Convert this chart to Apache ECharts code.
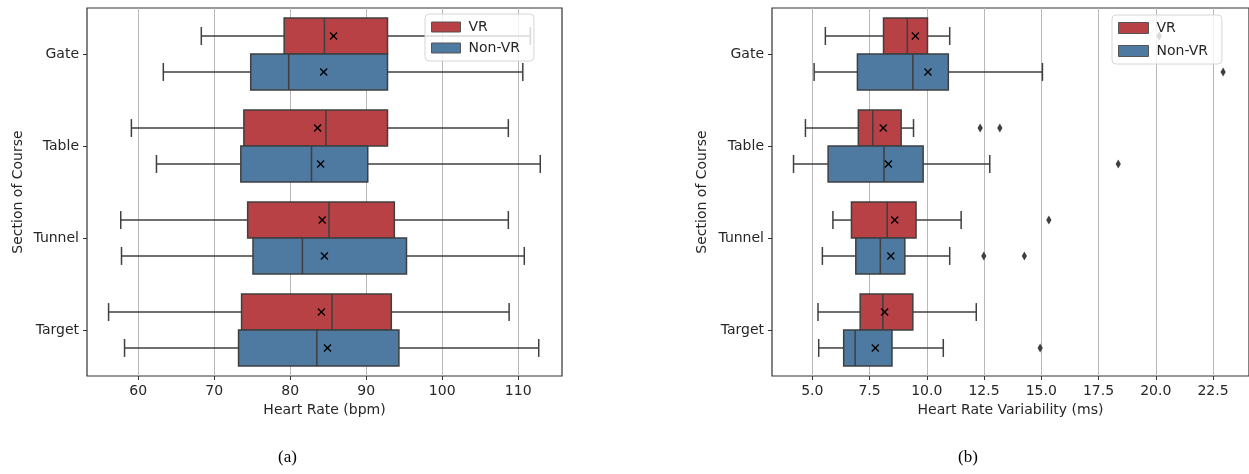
<!DOCTYPE html>
<html>
<head>
<meta charset="utf-8">
<script src="https://cdn.jsdelivr.net/npm/echarts@6/dist/echarts.min.js"></script>
<style>
  html, body { margin: 0; background: #fff; }
  #chart { width: 1249px; height: 474px; }
</style>
</head>
<body>
<div id="chart"></div>
<script>
const categories = ['Gate', 'Table', 'Tunnel', 'Target']
const hues = ['VR', 'Non-VR']

// each row: [lower whisker, Q1, median, Q3, upper whisker, mean]
const hrVR = [
  [68.3, 79.2, 84.5, 92.8, 111.6, 85.7],
  [59.1, 73.9, 84.7, 92.8, 108.7, 83.6],
  [57.7, 74.4, 85.1, 93.7, 108.7, 84.2],
  [56.1, 73.6, 85.5, 93.3, 108.8, 84.1]
]
const hrNonVR = [
  [63.3, 74.8, 79.8, 92.8, 110.6, 84.4],
  [62.4, 73.5, 82.8, 90.2, 112.9, 84.0],
  [57.8, 75.1, 81.6, 95.3, 110.8, 84.5],
  [58.2, 73.2, 83.5, 94.3, 112.7, 84.9]
]
const hrvVR = [
  [5.57, 8.11, 9.15, 10.03, 11.0, 9.5],
  [4.70, 7.01, 7.64, 8.88, 9.42, 8.1],
  [5.90, 6.71, 8.27, 9.53, 11.5, 8.6],
  [5.25, 7.09, 8.08, 9.39, 12.16, 8.16]
]
const hrvNonVR = [
  [5.08, 6.97, 9.39, 10.94, 15.05, 10.05],
  [4.18, 5.69, 8.13, 9.84, 12.75, 8.32],
  [5.44, 6.90, 7.97, 9.04, 11.0, 8.43],
  [5.28, 6.37, 6.87, 8.48, 10.72, 7.75]
]
// outliers: [category index, value]
const hrvOutVR = [[0, 20.15], [1, 12.33], [1, 13.19], [2, 15.33]]
const hrvOutNonVR = [[0, 22.94], [1, 18.36], [2, 12.49], [2, 14.26], [3, 14.95]]

const hrTicks = [60, 70, 80, 90, 100, 110]
const hrvTicks = [5, 7.5, 10, 12.5, 15, 17.5, 20, 22.5]

const hueColors = ['#b84146', '#4e79a0']
const edge = '#3f3f3f'
const textColor = '#262626'
const font = 'DejaVu Sans'

function offsetOf (hue, h) {
  return hue === 0 ? -h / 2 : h / 2
}

function boxItem (hue) {
  return function (params, api) {
    const cat = api.value(0)
    const band = api.size([0, 1])[1]
    const h = band * 0.39
    const yc = api.coord([0, cat])[1] + offsetOf(hue, h)
    const px = i => api.coord([api.value(i), cat])[0]
    const [lo, q1, med, q3, hi, mean] = [1, 2, 3, 4, 5, 6].map(px)
    const line = (x1, y1, x2, y2, color, w) => ({
      type: 'line', shape: { x1, y1, x2, y2 }, style: { stroke: color, lineWidth: w }
    })
    const m = 3.5
    return {
      type: 'group',
      children: [
        line(lo, yc, q1, yc, edge, 1.5),
        line(q3, yc, hi, yc, edge, 1.5),
        line(lo, yc - h / 4, lo, yc + h / 4, edge, 1.5),
        line(hi, yc - h / 4, hi, yc + h / 4, edge, 1.5),
        { type: 'rect', shape: { x: q1, y: yc - h / 2, width: q3 - q1, height: h },
          style: { fill: hueColors[hue], stroke: edge, lineWidth: 1.5 } },
        line(med, yc - h / 2, med, yc + h / 2, edge, 1.5),
        line(mean - m, yc - m, mean + m, yc + m, '#000', 1.3),
        line(mean - m, yc + m, mean + m, yc - m, '#000', 1.3)
      ]
    }
  }
}

function outlierItem (hue) {
  return function (params, api) {
    const cat = api.value(0)
    const band = api.size([0, 1])[1]
    const h = band * 0.39
    const p = api.coord([api.value(1), cat])
    const y = p[1] + offsetOf(hue, h)
    return {
      type: 'polygon',
      shape: { points: [[p[0], y - 4.5], [p[0] + 2.6, y], [p[0], y + 4.5], [p[0] - 2.6, y]] },
      style: { fill: edge }
    }
  }
}

function boxSeries (name, hue, rows, gi) {
  return {
    name: name,
    type: 'custom',
    xAxisIndex: gi,
    yAxisIndex: gi,
    renderItem: boxItem(hue),
    itemStyle: { color: hueColors[hue] },
    encode: { x: [1, 2, 3, 4, 5], y: 0 },
    data: rows.map((r, i) => [i].concat(r)),
    z: 3
  }
}

function outlierSeries (hue, pts, gi) {
  return {
    name: 'outliers ' + hues[hue],
    type: 'custom',
    xAxisIndex: gi,
    yAxisIndex: gi,
    renderItem: outlierItem(hue),
    encode: { x: 1, y: 0 },
    data: pts,
    z: 3
  }
}

function xAxisOf (gi, min, max, ticks, name, fmt) {
  return {
    type: 'value',
    gridIndex: gi,
    min: min,
    max: max,
    name: name,
    nameLocation: 'middle',
    nameGap: 27,
    nameTextStyle: { fontFamily: font, fontSize: 14, color: textColor },
    axisLine: { show: false },
    axisTick: { show: true, length: 4, customValues: ticks, lineStyle: { color: '#333' } },
    axisLabel: { customValues: ticks, formatter: fmt, fontFamily: font, fontSize: 14, color: textColor, margin: 8 },
    splitLine: { show: true, lineStyle: { color: '#b8b8b8', width: 1 } }
  }
}

function yAxisOf (gi, gap) {
  return {
    type: 'category',
    gridIndex: gi,
    data: categories,
    inverse: true,
    name: 'Section of Course',
    nameLocation: 'middle',
    nameGap: gap,
    nameTextStyle: { fontFamily: font, fontSize: 14, color: textColor },
    axisLine: { show: false },
    axisTick: { show: true, alignWithLabel: true, length: 4, lineStyle: { color: '#333' } },
    axisLabel: { fontFamily: font, fontSize: 14, color: textColor, margin: 8 },
    splitLine: { show: false }
  }
}

function legendOf (left, top, w, h, gap) {
  return {
    data: hues,
    left: left,
    top: top,
    orient: 'vertical',
    selectedMode: false,
    icon: 'rect',
    itemWidth: w,
    itemHeight: h,
    itemGap: gap,
    padding: [6, 14, 6, 6],
    backgroundColor: 'rgba(255,255,255,0.8)',
    borderColor: '#d6d6d6',
    borderWidth: 1,
    borderRadius: 4,
    itemStyle: { borderColor: '#555', borderWidth: 1 },
    textStyle: { fontFamily: font, fontSize: 14, color: textColor, padding: [0, 0, 0, 3] },
    z: 10
  }
}

const chart = echarts.init(document.getElementById('chart'))
chart.setOption({
  animation: false,
  grid: [
    { left: 87, right: 687, top: 8, bottom: 98, show: true, borderColor: '#333', borderWidth: 1.2 },
    { left: 772, right: -4, top: 8, bottom: 98, show: true, borderColor: '#333', borderWidth: 1.2 }
  ],
  xAxis: [
    xAxisOf(0, 53.26, 115.76, hrTicks, 'Heart Rate (bpm)', v => String(v)),
    xAxisOf(1, 3.24, 24.07, hrvTicks, 'Heart Rate Variability (ms)', v => v.toFixed(1))
  ],
  yAxis: [yAxisOf(0, 62), yAxisOf(1, 63)],
  legend: [
    legendOf(425, 14, 29, 10, 7),
    legendOf(1112, 15, 30, 11, 9)
  ],
  graphic: [
    { type: 'text', left: 278, top: 449, style: { text: '(a)', font: '17px "Liberation Serif"', fill: '#000' } },
    { type: 'text', left: 958, top: 449, style: { text: '(b)', font: '17px "Liberation Serif"', fill: '#000' } }
  ],
  series: [
    boxSeries('VR', 0, hrVR, 0),
    boxSeries('Non-VR', 1, hrNonVR, 0),
    boxSeries('VR', 0, hrvVR, 1),
    boxSeries('Non-VR', 1, hrvNonVR, 1),
    outlierSeries(0, hrvOutVR, 1),
    outlierSeries(1, hrvOutNonVR, 1)
  ]
})
</script>
</body>
</html>
